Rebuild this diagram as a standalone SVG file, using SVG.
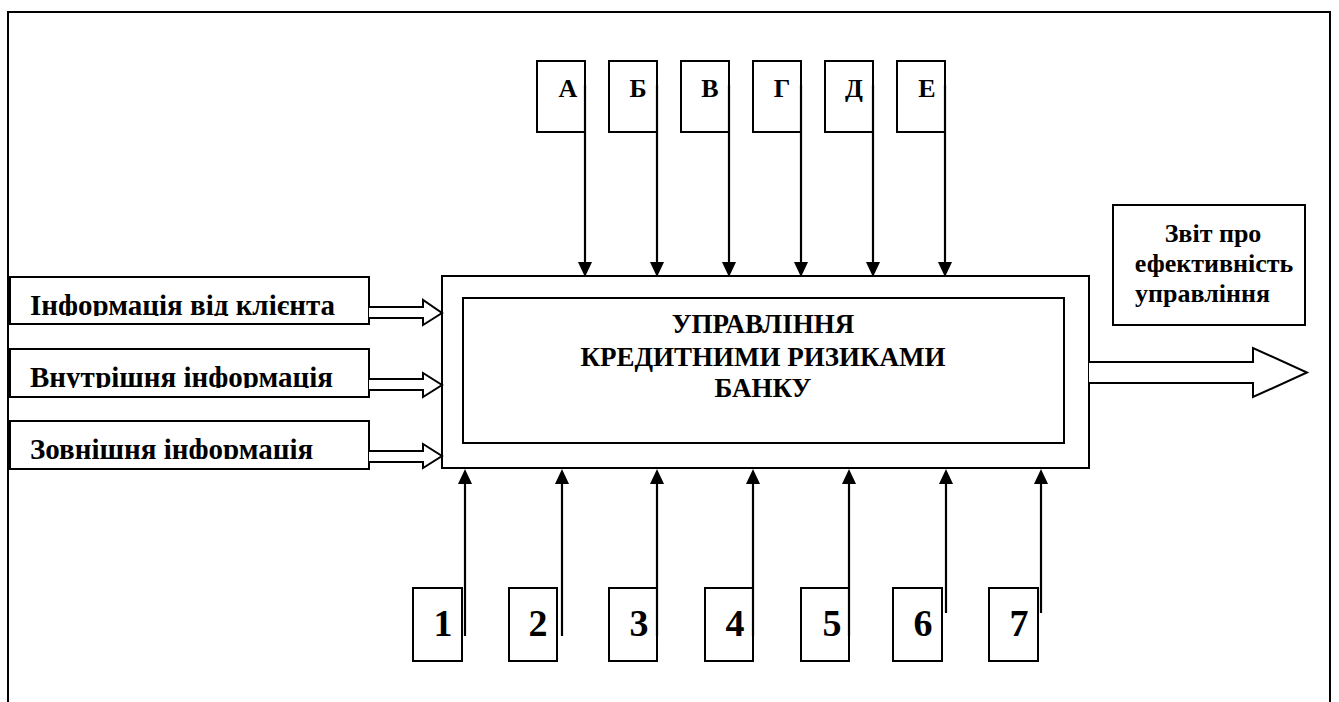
<svg xmlns="http://www.w3.org/2000/svg" width="1339" height="702" viewBox="0 0 1339 702">
<style>
.box{fill:#fff;stroke:#000;stroke-width:2}
.ln{fill:none;stroke:#000;stroke-width:2.2}
.hol{fill:#fff;stroke:#000;stroke-width:2}
.t{font-family:"Liberation Serif","Times New Roman",serif;font-weight:bold;fill:#000}
.let{font-size:26px;text-anchor:middle}
.num{font-size:38px;text-anchor:middle}
.inp{font-size:29px}
.main{font-size:27px;text-anchor:middle}
.out{font-size:26px}
</style>
<defs>
<marker id="ah" viewBox="0 0 15 14" refX="0" refY="7" markerWidth="15" markerHeight="14" markerUnits="userSpaceOnUse" orient="auto">
<path d="M0,0 L15,7 L0,14 z" fill="#000"/>
</marker>
<clipPath id="c1" clipPathUnits="userSpaceOnUse"><rect x="10" y="277" width="359" height="39"/></clipPath>
<clipPath id="c2" clipPathUnits="userSpaceOnUse"><rect x="10" y="349" width="359" height="39"/></clipPath>
<clipPath id="c3" clipPathUnits="userSpaceOnUse"><rect x="10" y="421" width="359" height="38"/></clipPath>
</defs>
<rect width="1339" height="702" fill="#fff"/>
<path id="frame" d="M8,702 L8,12 L1330,12 L1330,702" fill="none" stroke="#000" stroke-width="2"/>

<g id="main">
<rect class="box" x="442" y="276" width="647" height="192"/>
<rect class="box" x="463" y="298" width="601" height="145"/>
<text class="t main" x="763" y="333">УПРАВЛІННЯ</text>
<text class="t main" x="763" y="366">КРЕДИТНИМИ РИЗИКАМИ</text>
<text class="t main" x="763" y="397">БАНКУ</text>
</g>

<g id="top-A"><rect class="box" x="537" y="61" width="48" height="71"/><text class="t let" x="568" y="97">А</text></g>
<g id="top-B"><rect class="box" x="609" y="61" width="48" height="71"/><text class="t let" x="638" y="97">Б</text></g>
<g id="top-V"><rect class="box" x="681" y="61" width="48" height="71"/><text class="t let" x="710" y="97">В</text></g>
<g id="top-G"><rect class="box" x="753" y="61" width="48" height="71"/><text class="t let" x="782" y="97">Г</text></g>
<g id="top-D"><rect class="box" x="825" y="61" width="48" height="71"/><text class="t let" x="854" y="97">Д</text></g>
<g id="top-E"><rect class="box" x="897" y="61" width="48" height="71"/><text class="t let" x="927" y="97">Е</text></g>

<g id="in-1"><rect class="box" x="10" y="277" width="359" height="47"/><text class="t inp" x="30" y="315" clip-path="url(#c1)">Інформація від клієнта</text></g>
<g id="in-2"><rect class="box" x="10" y="349" width="359" height="48"/><text class="t inp" x="30" y="387" clip-path="url(#c2)">Внутрішня інформація</text></g>
<g id="in-3"><rect class="box" x="10" y="421" width="359" height="48"/><text class="t inp" x="30" y="459" clip-path="url(#c3)">Зовнішня інформація</text></g>

<g id="out">
<rect class="box" x="1113" y="205" width="192" height="120"/>
<text class="t out" x="1213" y="242" text-anchor="middle">Звіт про</text>
<text class="t out" x="1214" y="272" text-anchor="middle">ефективність</text>
<text class="t out" x="1135" y="302">управління</text>
</g>

<g id="bot-1"><rect class="box" x="413" y="588" width="49" height="73"/><text class="t num" x="443" y="636">1</text></g>
<g id="bot-2"><rect class="box" x="509" y="588" width="48" height="73"/><text class="t num" x="538" y="636">2</text></g>
<g id="bot-3"><rect class="box" x="609" y="588" width="48" height="73"/><text class="t num" x="639" y="636">3</text></g>
<g id="bot-4"><rect class="box" x="705" y="588" width="48" height="73"/><text class="t num" x="735" y="636">4</text></g>
<g id="bot-5"><rect class="box" x="801" y="588" width="48" height="73"/><text class="t num" x="832" y="636">5</text></g>
<g id="bot-6"><rect class="box" x="893" y="588" width="49" height="73"/><text class="t num" x="923" y="636">6</text></g>
<g id="bot-7"><rect class="box" x="989" y="588" width="49" height="73"/><text class="t num" x="1019" y="636">7</text></g>

<g id="connectors">
<line class="ln" x1="585" y1="85" x2="585" y2="262" marker-end="url(#ah)"/>
<line class="ln" x1="657" y1="85" x2="657" y2="262" marker-end="url(#ah)"/>
<line class="ln" x1="729" y1="85" x2="729" y2="262" marker-end="url(#ah)"/>
<line class="ln" x1="801" y1="85" x2="801" y2="262" marker-end="url(#ah)"/>
<line class="ln" x1="873" y1="85" x2="873" y2="262" marker-end="url(#ah)"/>
<line class="ln" x1="945" y1="85" x2="945" y2="262" marker-end="url(#ah)"/>

<line class="ln" x1="465" y1="636" x2="465" y2="484" marker-end="url(#ah)"/>
<line class="ln" x1="562" y1="636" x2="562" y2="484" marker-end="url(#ah)"/>
<line class="ln" x1="657" y1="636" x2="657" y2="484" marker-end="url(#ah)"/>
<line class="ln" x1="753" y1="636" x2="753" y2="484" marker-end="url(#ah)"/>
<line class="ln" x1="849" y1="636" x2="849" y2="484" marker-end="url(#ah)"/>
<line class="ln" x1="946" y1="613" x2="946" y2="484" marker-end="url(#ah)"/>
<line class="ln" x1="1041" y1="613" x2="1041" y2="484" marker-end="url(#ah)"/>

<polyline class="hol" points="369,307 423,307 423,300 442,313 423,325 423,318 369,318"/>
<polyline class="hol" points="369,379 423,379 423,373 442,385 423,397 423,390 369,390"/>
<polyline class="hol" points="369,451 423,451 423,444 442,456 423,468 423,462 369,462"/>

<polyline class="hol" points="1089,362 1253,362 1253,348 1307,372.5 1253,397 1253,383 1089,383"/>
</g>
</svg>
